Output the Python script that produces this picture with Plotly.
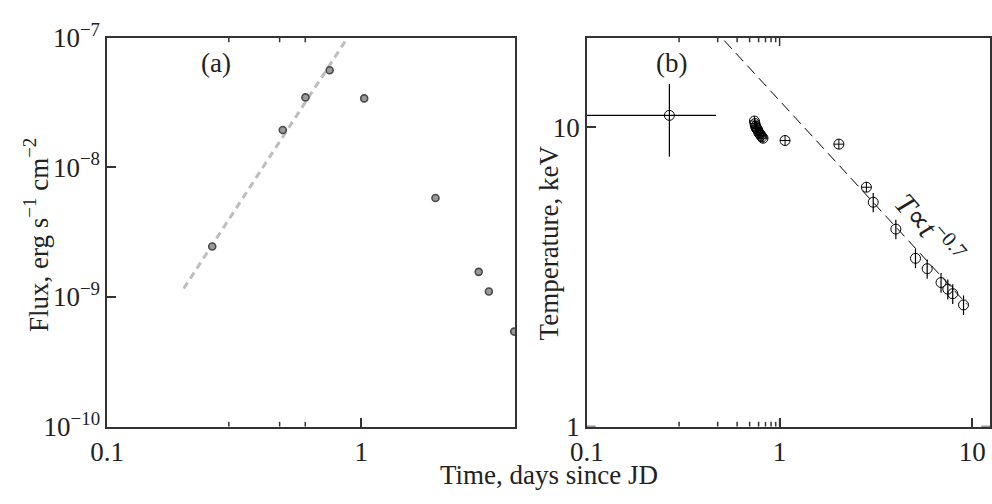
import numpy as np
import plotly.graph_objects as go

# ---------------- data ----------------
# Panel (a): X-ray flux light curve
t_flux = [0.259, 0.491, 0.603, 0.751, 1.027, 1.96, 2.90, 3.18, 4.0]
flux = [2.45e-9, 1.94e-8, 3.46e-8, 5.6e-8, 3.4e-8, 5.8e-9, 1.56e-9, 1.1e-9, 5.4e-10]
flux_fit_t = [0.2, 0.9]
flux_fit_index = 3.0
flux_fit_norm = 1.45e-7

# Panel (b): temperature
t_early = [0.268]
T_early = [10.97]
t_early_err = [0.2]
T_early_err = [3.0]

t_cross = [0.740, 0.745, 0.750, 0.755, 0.760, 0.770, 0.780, 0.790, 0.800, 0.810, 0.820,
           1.067, 2.03, 2.82]
T_cross = [10.5, 10.3, 10.1, 10.0, 9.9, 9.8, 9.6, 9.5, 9.4, 9.3, 9.2,
           9.04, 8.79, 6.31]

t_late = [3.06, 4.01, 5.07, 5.83, 6.88, 7.46, 7.91, 9.0]
T_late = [5.62, 4.57, 3.65, 3.37, 3.03, 2.88, 2.78, 2.55]
T_late_err = [0.42, 0.34, 0.27, 0.25, 0.23, 0.22, 0.21, 0.19]

temp_fit_t = [0.45, 9.4]
temp_fit_index = -0.7
temp_fit_norm = 12.28

# tick labels
flux_tickvals = [1e-10, 1e-9, 1e-8, 1e-7]
flux_ticktext = ["10<sup>\u221210</sup>", "10<sup>\u22129</sup>", "10<sup>\u22128</sup>", "10<sup>\u22127</sup>"]
time_a_tickvals = [0.1, 1]
time_a_ticktext = ["0.1", "1"]
time_b_tickvals = [0.1, 1, 10]
time_b_ticktext = ["0.1", "1", "10"]
temp_tickvals = [1, 10]
temp_ticktext = ["1", "10"]

# ---------------- styling ----------------
W, H = 992, 504
FONT = "Liberation Serif, Times New Roman, serif"
AX = "#333333"
TXT = "#222222"
FS = 27
MAJ_LEN, MIN_LEN = 9, 5


def minor_vals(lo_exp, hi_exp):
    out = []
    for e in range(lo_exp, hi_exp + 1):
        for m in range(2, 10):
            out.append(m * 10.0 ** e)
    return out


def px_x(p):
    return p / W


def px_y(p):
    return 1 - p / H


a_left, a_right = 92, 508
b_left, b_right = 581, 992
top, bottom = 20, 437

xa_dom = [px_x(a_left), px_x(a_right)]
xb_dom = [px_x(b_left), px_x(b_right)]
y_dom = [px_y(bottom), px_y(top)]
xa_rng = [-1, float(np.log10(4.04))]
xb_rng = [-1, -1 + (b_right - b_left) / 196.5]
ya_rng = [-10, -7]
yb_rng = [0, 1.3]

fig = go.Figure()

# panel (a) fit line
fa = np.array(flux_fit_t)
fig.add_trace(go.Scatter(x=fa, y=flux_fit_norm * fa ** flux_fit_index, mode="lines",
                         line=dict(color="#bdbdbd", width=3, dash="7px,5px"),
                         xaxis="x", yaxis="y", showlegend=False, hoverinfo="skip"))
# panel (a) points
fig.add_trace(go.Scatter(x=t_flux, y=flux, mode="markers",
                         marker=dict(symbol="circle", size=7, color="#9a9a9a",
                                     line=dict(color="#4a4a4a", width=1.6)),
                         xaxis="x", yaxis="y", showlegend=False))

# panel (b) fit line
fb = np.geomspace(temp_fit_t[0], temp_fit_t[1], 50)
fig.add_trace(go.Scatter(x=fb, y=temp_fit_norm * fb ** temp_fit_index, mode="lines",
                         line=dict(color="black", width=1, dash="11px,6px"),
                         xaxis="x2", yaxis="y2", showlegend=False, hoverinfo="skip"))
# early point with big errors
fig.add_trace(go.Scatter(x=t_early, y=T_early, mode="markers",
                         marker=dict(symbol="circle-open", size=10, color="black",
                                     line=dict(width=1)),
                         error_x=dict(type="data", array=t_early_err, color="black",
                                      thickness=1.2, width=0),
                         error_y=dict(type="data", array=T_early_err, color="black",
                                      thickness=1.2, width=0),
                         xaxis="x2", yaxis="y2", showlegend=False))
# cross-hair points
fig.add_trace(go.Scatter(x=t_cross, y=T_cross, mode="markers",
                         marker=dict(symbol="circle-cross-open", size=10, color="black",
                                     line=dict(width=1)),
                         xaxis="x2", yaxis="y2", showlegend=False))
# late points with vertical error bars
fig.add_trace(go.Scatter(x=t_late, y=T_late, mode="markers",
                         marker=dict(symbol="circle-open", size=10, color="black",
                                     line=dict(width=1)),
                         error_y=dict(type="data", array=T_late_err, color="black",
                                      thickness=1.2, width=0),
                         xaxis="x2", yaxis="y2", showlegend=False))

major = dict(type="log", showgrid=False, zeroline=False, showline=True,
             linecolor=AX, linewidth=1.5, mirror=True,
             ticks="inside", ticklen=MAJ_LEN, tickwidth=1.5, tickcolor=AX,
             tickmode="array",
             tickfont=dict(family=FONT, size=FS, color=TXT))

fig.update_layout(
    width=W, height=H, autosize=False,
    margin=dict(l=0, r=0, t=0, b=0),
    paper_bgcolor="white", plot_bgcolor="white",
    font=dict(family=FONT, color=TXT, size=FS),
    xaxis=dict(major, domain=xa_dom, range=xa_rng,
               tickvals=time_a_tickvals, ticktext=time_a_ticktext, anchor="y"),
    yaxis=dict(major, domain=y_dom, range=ya_rng,
               tickvals=flux_tickvals, ticktext=flux_ticktext, anchor="x"),
    xaxis2=dict(major, domain=xb_dom, range=xb_rng,
                tickvals=time_b_tickvals, ticktext=time_b_ticktext, anchor="y2"),
    yaxis2=dict(major, domain=y_dom, range=yb_rng,
                tickvals=temp_tickvals, ticktext=temp_ticktext, anchor="x2"),
)

# ---- tick marks on all four sides, positioned through the axes' own scales ----
plot_h = bottom - top
line_style = dict(color=AX, width=1.5)


def x_ticks(xref, yref, vals, rng, length):
    f = length / plot_h
    for v in vals:
        lv = float(np.log10(v))
        if not (rng[0] < lv < rng[1]):
            continue
        for y0, y1 in [(0, f), (1, 1 - f)]:
            fig.add_shape(type="line", xref=xref, yref=yref + " domain",
                          x0=lv, x1=lv, y0=y0, y1=y1, line=line_style, layer="above")


def y_ticks(xref, yref, vals, rng, width_px, length):
    f = length / width_px
    for v in vals:
        lv = float(np.log10(v))
        if not (rng[0] < lv < rng[1]):
            continue
        for x0, x1 in [(0, f), (1, 1 - f)]:
            fig.add_shape(type="line", xref=xref + " domain", yref=yref,
                          x0=x0, x1=x1, y0=lv, y1=lv, line=line_style, layer="above")


x_ticks("x", "y", time_a_tickvals, xa_rng, MAJ_LEN)
x_ticks("x", "y", minor_vals(-1, 0), xa_rng, MIN_LEN)
y_ticks("x", "y", flux_tickvals, ya_rng, a_right - a_left, MAJ_LEN)
y_ticks("x", "y", minor_vals(-10, -8), ya_rng, a_right - a_left, MIN_LEN)
x_ticks("x2", "y2", time_b_tickvals, xb_rng, MAJ_LEN)
x_ticks("x2", "y2", minor_vals(-1, 1), xb_rng, MIN_LEN)
y_ticks("x2", "y2", temp_tickvals, yb_rng, b_right - b_left, MAJ_LEN)
y_ticks("x2", "y2", minor_vals(0, 1), yb_rng, b_right - b_left, MIN_LEN)

ann = [
    dict(text="(a)", x=px_x(203), y=px_y(47), size=FS),
    dict(text="(b)", x=px_x(667), y=px_y(47), size=FS),
    dict(text="Flux, erg s<sup>\u22121</sup> cm<sup>\u22122</sup>", x=px_x(20), y=px_y(232),
         textangle=-90, size=FS),
    dict(text="Temperature, keV", x=px_x(542), y=px_y(240), textangle=-90, size=FS),
    dict(text="Time, days since JD", x=px_x(542), y=px_y(489), size=FS),
    dict(text="<i>T</i>\u221d<i>t</i><sup>\u22120.7</sup>", x=px_x(931), y=px_y(224),
         textangle=49, size=30),
]
for a in ann:
    size = a.pop("size")
    fig.add_annotation(xref="paper", yref="paper", showarrow=False,
                       xanchor="center", yanchor="middle",
                       font=dict(family=FONT, size=size, color=TXT), **a)

fig.write_html("out.html")
